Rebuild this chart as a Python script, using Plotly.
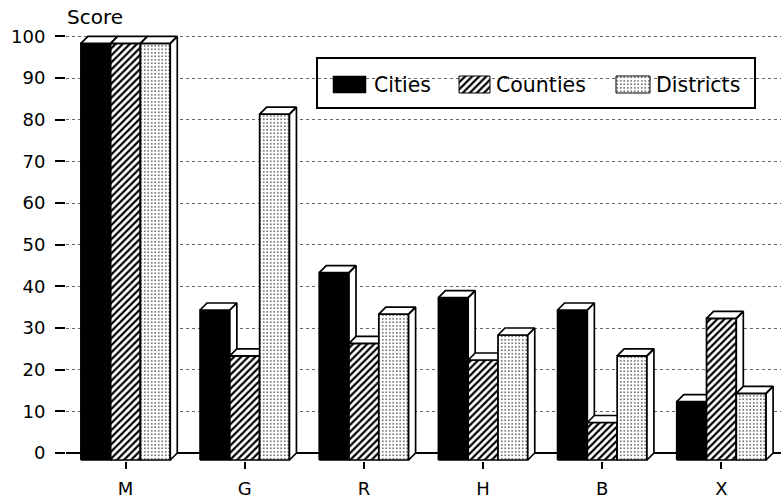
import plotly.graph_objects as go

# ---- data ----
categories = ["M", "G", "R", "H", "B", "X"]
series_names = ["Cities", "Counties", "Districts"]
cities = [100, 36, 45, 39, 36, 14]
counties = [100, 25, 28, 24, 9, 34]
districts = [100, 83, 35, 30, 25, 16]
y_tick_values = [0, 10, 20, 30, 40, 50, 60, 70, 80, 90, 100]
y_axis_title = "Score"

series_values = [cities, counties, districts]

# ---- layout geometry (pixels) ----
W, H = 781, 500
ML, MR, MT, MB = 66, 0, 30, 39
plot_w = W - ML - MR
plot_h = H - MT - MB
ZERO_PX = 453            # pixel row of the score-0 line
uy = (453.3 - 36.7) / 100  # px per score unit
x_range = [-0.5, len(categories) - 0.5]
ux = plot_w / (x_range[1] - x_range[0])     # px per category unit
y_min = (ZERO_PX - (H - MB)) / uy
y_max = (ZERO_PX - MT) / uy
dx = 7 / ux
dy = 7 / uy
BW = 0.25
FONT = "DejaVu Sans"


def px_x(px):
    return x_range[0] + (px - ML) / ux


def px_y(py):
    return (ZERO_PX - py) / uy


patterns = [
    None,
    dict(shape="/", fgcolor="black", bgcolor="white", size=5, solidity=0.45, fillmode="replace"),
    dict(shape=".", fgcolor="black", bgcolor="white", size=3.5, solidity=0.14, fillmode="replace"),
]
fills = ["black", "white", "white"]
LW = 1.7

fig = go.Figure()

for i, cat in enumerate(categories):
    for j in range(len(series_names)):
        v = series_values[j][i]
        x0 = i + (j - 1.5) * BW
        x1 = x0 + BW
        fkw = dict(
            x=[x0, x1, x1, x0, x0],
            y=[-dy, -dy, v - dy, v - dy, -dy],
            mode="lines", fill="toself", fillcolor=fills[j],
            line=dict(color="black", width=LW),
            showlegend=False, name=series_names[j],
            hovertemplate=f"{series_names[j]} {cat}: {v}<extra></extra>",
        )
        if patterns[j] is not None:
            fkw["fillpattern"] = patterns[j]
        fig.add_trace(go.Scatter(**fkw))
        fig.add_trace(go.Scatter(
            x=[x0, x0 + dx, x1 + dx, x1, x0, None,
               x1, x1 + dx, x1 + dx, x1, x1],
            y=[v - dy, v, v, v - dy, v - dy, None,
               -dy, 0, v, v - dy, -dy],
            mode="lines", fill="toself", fillcolor="white",
            line=dict(color="black", width=LW),
            showlegend=False, hoverinfo="skip",
        ))

# ---- legend (box, swatches, labels) ----
legend_swatches_px = [(333, 366), (459, 490), (616, 650)]
legend_text_px = [372, 494, 654]
sw_top, sw_bot = 76, 93
for j, name in enumerate(series_names):
    a, b = legend_swatches_px[j]
    skw = dict(
        x=[px_x(a), px_x(b), px_x(b), px_x(a), px_x(a)],
        y=[px_y(sw_bot), px_y(sw_bot), px_y(sw_top), px_y(sw_top), px_y(sw_bot)],
        mode="lines", fill="toself", fillcolor=fills[j],
        line=dict(color="black", width=1 if j else 0.5),
        showlegend=False, hoverinfo="skip",
    )
    if patterns[j] is not None:
        skw["fillpattern"] = patterns[j]
    fig.add_trace(go.Scatter(**skw))

annotations = [dict(
    text=y_axis_title, xref="paper", yref="paper",
    x=(65 - ML) / plot_w, y=1 + (MT - 17.5) / plot_h,
    xanchor="left", yanchor="middle", showarrow=False,
    font=dict(size=20, family=FONT),
)]
for j, name in enumerate(series_names):
    annotations.append(dict(
        text=name, xref="paper", yref="paper",
        x=(legend_text_px[j] - ML) / plot_w, y=1 - (84.5 - MT) / plot_h,
        xanchor="left", yanchor="middle", showarrow=False,
        font=dict(size=20.5, family=FONT),
    ))

shapes = [dict(
    type="rect", xref="paper", yref="paper", layer="between",
    x0=(317 - ML) / plot_w, x1=(755 - ML) / plot_w,
    y0=1 - (108 - MT) / plot_h, y1=1 - (58 - MT) / plot_h,
    fillcolor="white", line=dict(color="black", width=2),
)]

fig.update_layout(
    width=W, height=H,
    margin=dict(l=ML, r=MR, t=MT, b=MB, pad=0),
    paper_bgcolor="white", plot_bgcolor="white",
    font=dict(family=FONT, color="black", size=16),
    showlegend=False,
    xaxis=dict(
        range=x_range, tickmode="array",
        tickvals=list(range(len(categories))), ticktext=categories,
        ticks="outside", ticklen=7, tickwidth=1.5, tickcolor="black",
        showgrid=False, zeroline=False, showline=False,
        tickfont=dict(size=18), ticklabelstandoff=4, fixedrange=True,
    ),
    yaxis=dict(
        range=[y_min, y_max], tickmode="array", tickvals=y_tick_values,
        ticks="outside", ticklen=10, tickwidth=1.5, tickcolor="black",
        showgrid=True, gridcolor="#666", griddash="dot", gridwidth=1,
        zeroline=True, zerolinecolor="black", zerolinewidth=1.5,
        showline=False, tickfont=dict(size=18), ticklabelstandoff=6,
        fixedrange=True,
    ),
    annotations=annotations,
    shapes=shapes,
)

fig.write_html("out.html", config={"displayModeBar": False},
               post_script="document.body.style.margin='0';")
